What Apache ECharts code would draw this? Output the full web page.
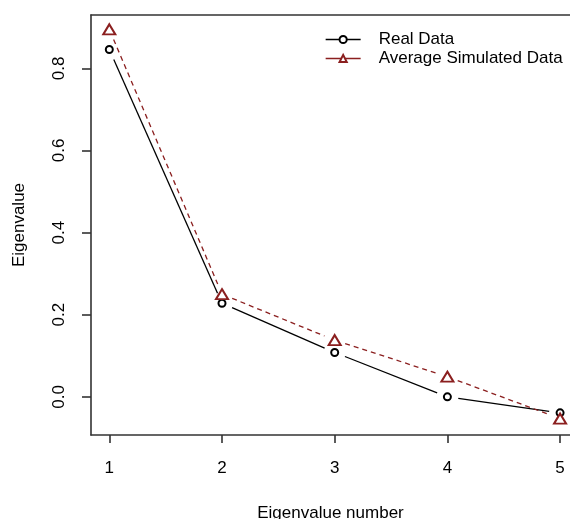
<!DOCTYPE html>
<html><head><meta charset="utf-8">
<script src="https://cdn.jsdelivr.net/npm/echarts@6/dist/echarts.min.js"></script>
<style>html,body{margin:0;padding:0;background:#fff}#c{width:570px;height:519px}</style>
</head><body><div id="c"></div>
<script>
const eigenNumbers = [1, 2, 3, 4, 5];
const realData = [0.846, 0.228, 0.108, 0.000, -0.039];
const simulatedData = [0.895, 0.250, 0.138, 0.049, -0.053];
const xTicks = [1, 2, 3, 4, 5];
const yTicks = [0.0, 0.2, 0.4, 0.6, 0.8];

const FONT = 'Liberation Sans';
const BOX = '#333333';
const RED = '#8b1f1f';

function segments(ys) {
  return eigenNumbers.slice(0, -1).map((x, i) => [x, ys[i], eigenNumbers[i + 1], ys[i + 1]]);
}
function segRenderer(color, dash) {
  return function (params, api) {
    const a = api.coord([api.value(0), api.value(1)]);
    const b = api.coord([api.value(2), api.value(3)]);
    const dx = b[0] - a[0], dy = b[1] - a[1];
    const len = Math.sqrt(dx * dx + dy * dy);
    const gap = 11;
    if (len <= 2 * gap) return null;
    const ux = dx / len, uy = dy / len;
    return {
      type: 'line',
      shape: { x1: a[0] + ux * gap, y1: a[1] + uy * gap, x2: b[0] - ux * gap, y2: b[1] - uy * gap },
      style: { stroke: color, lineWidth: 1.3, lineDash: dash, fill: null }
    };
  };
}

const chart = echarts.init(document.getElementById('c'), null, { renderer: 'canvas' });
chart.setOption({
  animation: false,
  backgroundColor: '#fff',
  textStyle: { fontFamily: FONT },
  grid: { left: 91, top: 15, right: 0, bottom: 84, show: false, containLabel: false, outerBoundsMode: 'none' },
  legend: {
    orient: 'vertical', left: 325, top: 31, padding: 0, itemWidth: 35, itemHeight: 9, itemGap: 2,
    textStyle: { fontFamily: FONT, fontSize: 17, color: '#000', padding: [0, 0, 0, 13] },
    data: [
      { name: 'Real Data', lineStyle: { opacity: 1, width: 1.3, color: '#000', type: 'solid' } },
      { name: 'Average Simulated Data', lineStyle: { opacity: 1, width: 1.3, color: RED, type: 'solid' } }
    ]
  },
  xAxis: [{
    type: 'value', min: 0.8376, max: 5.088, position: 'bottom',
    splitLine: { show: false }, axisLine: { show: true, onZero: false, lineStyle: { color: BOX, width: 1.6 } },
    axisTick: { show: true, customValues: xTicks, length: 8, lineStyle: { color: BOX, width: 1.6 } },
    axisLabel: { customValues: xTicks, fontSize: 17, color: '#000', margin: 25, fontFamily: FONT },
    name: 'Eigenvalue number', nameLocation: 'middle', nameGap: 70,
    nameTextStyle: { fontSize: 17, color: '#000', fontFamily: FONT }
  }, {
    type: 'value', min: 0.8376, max: 5.088, position: 'top',
    splitLine: { show: false }, axisLine: { show: true, onZero: false, lineStyle: { color: BOX, width: 1.6 } },
    axisTick: { show: false }, axisLabel: { show: false }
  }],
  yAxis: {
    type: 'value', min: -0.093, max: 0.93,
    splitLine: { show: false }, axisLine: { show: true, onZero: false, lineStyle: { color: BOX, width: 1.6 } },
    axisTick: { show: true, customValues: yTicks, length: 9, lineStyle: { color: BOX, width: 1.6 } },
    axisLabel: { customValues: yTicks, rotate: 90, fontSize: 17, color: '#000', margin: 23, fontFamily: FONT,
      formatter: v => v.toFixed(1) },
    name: 'Eigenvalue', nameLocation: 'middle', nameGap: 63, nameRotate: 90,
    nameTextStyle: { fontSize: 17, color: '#000', fontFamily: FONT }
  },
  series: [
    { type: 'custom', name: 'realSeg', data: segments(realData), encode: { x: [0, 2], y: [1, 3] },
      renderItem: segRenderer('#000', null), silent: true, z: 2 },
    { type: 'custom', name: 'simSeg', data: segments(simulatedData), encode: { x: [0, 2], y: [1, 3] },
      renderItem: segRenderer(RED, [5, 4]), silent: true, z: 2 },
    { type: 'line', name: 'Real Data', data: eigenNumbers.map((x, i) => [x, realData[i]]),
      symbol: 'emptyCircle', symbolSize: 7, showAllSymbol: true,
      lineStyle: { opacity: 0, width: 0 }, itemStyle: { color: '#000', borderWidth: 1.2 }, z: 3 },
    { type: 'line', name: 'Average Simulated Data', data: eigenNumbers.map((x, i) => [x, simulatedData[i]]),
      symbol: 'emptyTriangle', symbolSize: [12, 10], showAllSymbol: true,
      lineStyle: { opacity: 0, width: 0 }, itemStyle: { color: RED, borderWidth: 1.3 }, z: 3 }
  ]
});
</script></body></html>
